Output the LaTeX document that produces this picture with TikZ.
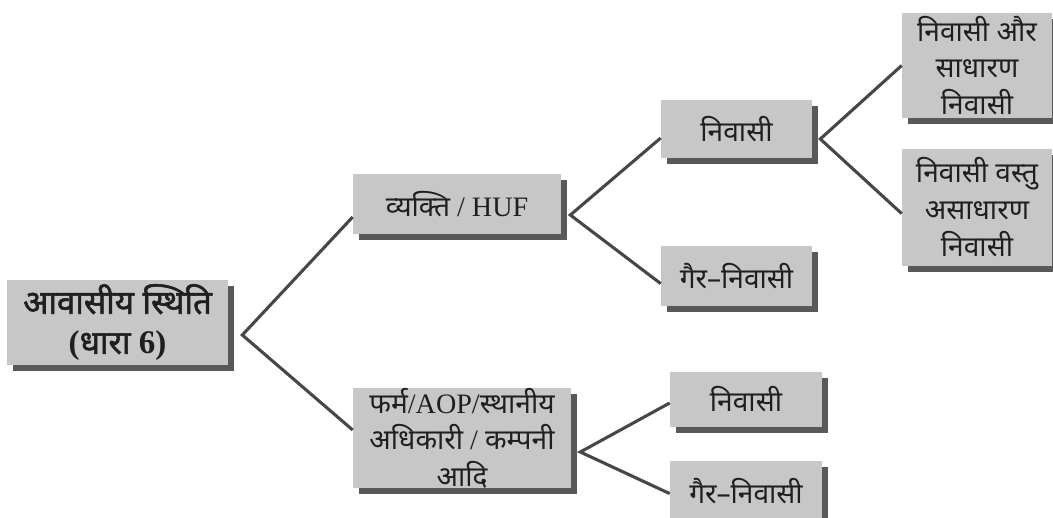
\documentclass[tikz,border=0pt]{standalone}
\usepackage{fontspec}
\setmainfont{Liberation Serif}
\newfontfamily\hindifont[Script=Devanagari, BoldFont={Noto Sans}, BoldFeatures={FakeBold=1.6}]{Noto Sans}
\newcommand{\hn}[1]{{\hindifont #1}}
\usetikzlibrary{positioning,calc,shadows}

\tikzset{
  box/.style = {fill=black!22, text=black!88, align=center, inner sep=0pt,
    font=\fontsize{20}{26}\selectfont,
    drop shadow={shadow xshift=4.3pt, shadow yshift=-4.3pt, fill=black!65, opacity=1}},
  link/.style = {draw=black!72, line width=2.2pt, line join=miter},
}

\begin{document}
\begin{tikzpicture}[x=0.025cm, y=-0.025cm]
    \path[use as bounding box, clip] (0,0) rectangle (1053,518);
    % root and first split
    \node[box, minimum width=5.525cm, minimum height=2.125cm,
      font=\fontsize{23.5}{28.5}\selectfont\bfseries] (root) at (117.5,322.5)
      {\hn{आवासीय स्थिति}\\(\hn{धारा} 6)};
    \node[box, minimum width=5.2cm, minimum height=1.5cm] (indiv) at (457,204)
      {\hn{व्यक्ति} / HUF};
    \node[box, minimum width=5.45cm, minimum height=2.3cm] (firm) at (462,438)
      {\hn{फर्म}/AOP/\hn{स्थानीय}\\\hn{अधिकारी} / \hn{कम्पनी}\\\hn{आदि}};
    % individual / HUF
    \node[box, minimum width=3.775cm, minimum height=1.45cm] (res1) at (736.5,129)
      {\hn{निवासी}};
    \node[box, minimum width=3.775cm, minimum height=1.5cm, below=2.175cm of res1] (nonres1)
      {\hn{गैर–निवासी}};
    \node[box, minimum width=3.75cm, minimum height=2.625cm] (ord) at (977,65.5)
      {\hn{निवासी और}\\\hn{साधारण}\\\hn{निवासी}};
    \node[box, minimum width=3.75cm, minimum height=2.925cm, below=0.75cm of ord] (nord)
      {\hn{निवासी वस्तु}\\\hn{असाधारण}\\\hn{निवासी}};
    % firm / AOP
    \node[box, minimum width=3.8cm, minimum height=1.375cm] (res2) at (746,399.5)
      {\hn{निवासी}};
    \node[box, minimum width=3.8cm, minimum height=1.55cm, below=0.825cm of res2] (nonres2)
      {\hn{गैर–निवासी}};

    \coordinate (fa) at ($(root.east)+(14,12.5)$);
    \coordinate (fb) at ($(indiv.east)+(9,11)$);
    \coordinate (fc) at ($(res1.east)+(8,10)$);
    \coordinate (fd) at ($(firm.east)+(9,14)$);

    \draw[link] ($(indiv.west)+(0,13)$) -- (fa) -- ($(firm.west)+(0,-8)$);
    \draw[link] ($(res1.west)+(0,9)$) -- (fb) -- ($(nonres1.west)+(0,8)$);
    \draw[link] (ord.west) -- (fc) -- ($(nord.west)+(0,6.5)$);
    \draw[link] ($(res2.west)+(0,3.5)$) -- (fd) -- ($(nonres2.west)+(0,2)$);
\end{tikzpicture}
\end{document}
